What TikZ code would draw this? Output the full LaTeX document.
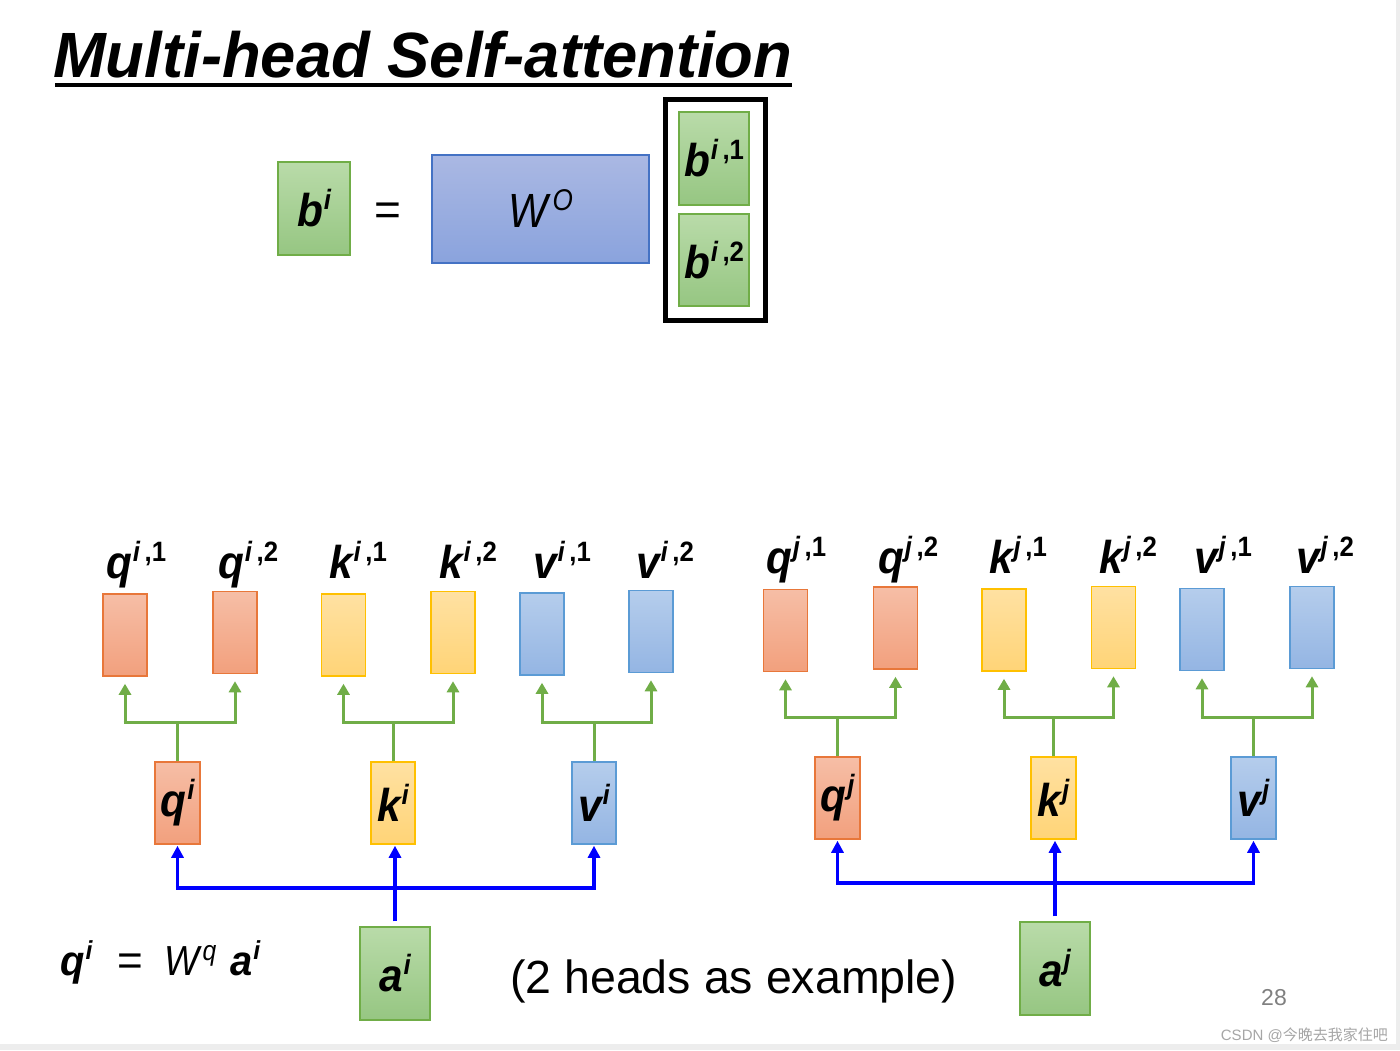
\documentclass[tikz,border=0pt]{standalone}
\usepackage{fontspec}
\setmainfont{Liberation Sans}
\newfontfamily\cjkfont{Noto Sans CJK SC}
\usetikzlibrary{arrows.meta}
\definecolor{orTop}{HTML}{F6BEA6}
\definecolor{orBot}{HTML}{F2A07D}
\definecolor{orDraw}{HTML}{E8773A}
\definecolor{yeTop}{HTML}{FFE1A2}
\definecolor{yeBot}{HTML}{FFD477}
\definecolor{yeDraw}{HTML}{FFC000}
\definecolor{blTop}{HTML}{B5CDEC}
\definecolor{blBot}{HTML}{94B5E3}
\definecolor{blDraw}{HTML}{5B9BD5}
\definecolor{grTop}{HTML}{B9DBA9}
\definecolor{grBot}{HTML}{96C682}
\definecolor{grDraw}{HTML}{70AD47}
\definecolor{woTop}{HTML}{AAB8E3}
\definecolor{woBot}{HTML}{8AA3DD}
\definecolor{woDraw}{HTML}{4472C4}
\definecolor{gline}{HTML}{70AD47}
\definecolor{bline}{HTML}{0000FF}
\newcommand\lab[2]{\scalebox{0.92}[1]{\fontsize{46}{46}\selectfont\bfseries\itshape #1\hspace{1pt}\raisebox{17pt}{\fontsize{28}{28}\selectfont #2}}}
\newcommand\hd[2]{#1\hspace{5pt}{\upshape ,#2}}
\tikzset{
  box/.style={draw, line width=1.5pt, inner sep=0pt, minimum width=44pt, minimum height=82pt},
  orbox/.style={box, draw=orDraw, top color=orTop, bottom color=orBot},
  yebox/.style={box, draw=yeDraw, top color=yeTop, bottom color=yeBot},
  blbox/.style={box, draw=blDraw, top color=blTop, bottom color=blBot},
  grbox/.style={box, draw=grDraw, top color=grTop, bottom color=grBot, minimum width=70pt, minimum height=93pt},
  toplab/.style={anchor=base west, inner sep=0pt},
  gl/.style={draw=gline, line width=3pt},
  garr/.style={gl, -{Triangle[width=12pt,length=11pt]}, shorten >=7pt},
  bl/.style={draw=bline, line width=3.5pt},
  barr/.style={bl, -{Triangle[width=12pt,length=12pt]}, shorten >=1pt},
}
\begin{document}
\begin{tikzpicture}[x=1pt,y=-1pt]
\useasboundingbox (0,0) rectangle (1400,1050);
\fill[black!7] (0,0) rectangle (1400,1050);
\fill[white] (0,0) rectangle (1396,1044);

% title
\node[anchor=base west, inner sep=0pt] (title) at (53,77)
  {\scalebox{0.99}[1]{\fontsize{64}{64}\selectfont\bfseries\itshape Multi-head Self-attention}};
\draw[line width=4pt] (55,85) -- (792,85);

% top equation
\node[grbox, minimum width=72pt, minimum height=93pt] (bi) at (314,208.5) {\lab{b}{i}};
\node[inner sep=0pt] (eq) at (388,214) {\fontsize{46}{46}\selectfont =};
\node[draw=woDraw, line width=1.5pt, top color=woTop, bottom color=woBot, inner sep=0pt,
      minimum width=217pt, minimum height=108pt] (WO) at (540.5,209)
  {\scalebox{0.87}[1]{\fontsize{48}{48}\selectfont\itshape W\hspace{6pt}\raisebox{17pt}{\fontsize{30}{30}\selectfont O}}};
\node[draw, line width=5pt, inner sep=0pt, minimum width=100pt, minimum height=221pt] (frame) at (715,209.5) {};
\node[grbox] (b1) at (714,158.5) {\lab{b}{\hd{i}{1}}};
\node[grbox, minimum height=92pt] (b2) at (714,260) {\lab{b}{\hd{i}{2}}};

% ---------- left group (i) ----------
\node[orbox] (qi1) at (125,635) {};
\node[orbox] (qi2) at (235,632.5) {};
\node[yebox] (ki1) at (343.5,635) {};
\node[yebox] (ki2) at (453,632.5) {};
\node[blbox] (vi1) at (542,634) {};
\node[blbox] (vi2) at (651,631.5) {};
\node[toplab] (lqi1) at (106,578) {\lab{q}{\hd{i}{1}}};
\node[toplab] (lqi2) at (218,578) {\lab{q}{\hd{i}{2}}};
\node[toplab] (lki1) at (329,578) {\lab{k}{\hd{i}{1}}};
\node[toplab] (lki2) at (439,578) {\lab{k}{\hd{i}{2}}};
\node[toplab] (lvi1) at (533,578) {\lab{v}{\hd{i}{1}}};
\node[toplab] (lvi2) at (636,578) {\lab{v}{\hd{i}{2}}};

\node[orbox, minimum width=45pt] (qi) at (177.5,803) {\lab{q}{i}};
\node[yebox] (ki) at (393,803) {\lab{k}{i}};
\node[blbox] (vi) at (594,803) {\lab{v}{i}};
\node[grbox] (ai) at (395,973.5) {\lab{a}{i}};

\coordinate (gi) at (0,722);
\coordinate (bi0) at (0,888);
\foreach \s/\a/\b in {qi/qi1/qi2, ki/ki1/ki2, vi/vi1/vi2}{
  \draw[gl] (\s.north) -- (\s.north |- gi);
  \draw[gl] ([xshift=-1.5pt]\a.south |- gi) -- ([xshift=1.5pt]\b.south |- gi);
  \draw[garr] (\a.south |- gi) -- (\a.south);
  \draw[garr] (\b.south |- gi) -- (\b.south);
}
\draw[bl] ([xshift=-1.75pt]qi.south |- bi0) -- ([xshift=1.75pt]vi.south |- bi0);
\draw[barr] (qi.south |- bi0) -- (qi.south);
\draw[barr] (vi.south |- bi0) -- (vi.south);
\draw[barr, shorten <=5pt] (ai.north) -- (ai.north |- ki.south);

% ---------- right group (j) ----------
\node[orbox] (qj1) at (785.5,630.5) {};
\node[orbox] (qj2) at (895.5,628) {};
\node[yebox] (kj1) at (1004,630) {};
\node[yebox] (kj2) at (1113.5,627.5) {};
\node[blbox] (vj1) at (1202,629.5) {};
\node[blbox] (vj2) at (1312,627.5) {};
\node[toplab] (lqj1) at (766,573) {\lab{q}{\hd{j}{1}}};
\node[toplab] (lqj2) at (878,573) {\lab{q}{\hd{j}{2}}};
\node[toplab] (lkj1) at (989,573) {\lab{k}{\hd{j}{1}}};
\node[toplab] (lkj2) at (1099,573) {\lab{k}{\hd{j}{2}}};
\node[toplab] (lvj1) at (1194,573) {\lab{v}{\hd{j}{1}}};
\node[toplab] (lvj2) at (1296,573) {\lab{v}{\hd{j}{2}}};

\node[orbox, minimum width=45pt] (qj) at (837.5,798) {\lab{q}{j}};
\node[yebox, minimum width=45pt] (kj) at (1053.5,798) {\lab{k}{j}};
\node[blbox, minimum width=45pt] (vj) at (1253.5,798) {\lab{v}{j}};
\node[grbox] (aj) at (1055,968.5) {\lab{a}{j}};

\coordinate (gj) at (0,717);
\coordinate (bj0) at (0,883);
\foreach \s/\a/\b in {qj/qj1/qj2, kj/kj1/kj2, vj/vj1/vj2}{
  \draw[gl] (\s.north) -- (\s.north |- gj);
  \draw[gl] ([xshift=-1.5pt]\a.south |- gj) -- ([xshift=1.5pt]\b.south |- gj);
  \draw[garr] (\a.south |- gj) -- (\a.south);
  \draw[garr] (\b.south |- gj) -- (\b.south);
}
\draw[bl] ([xshift=-1.75pt]qj.south |- bj0) -- ([xshift=1.75pt]vj.south |- bj0);
\draw[barr] (qj.south |- bj0) -- (qj.south);
\draw[barr] (vj.south |- bj0) -- (vj.south);
\draw[barr, shorten <=5pt] (aj.north) -- (aj.north |- kj.south);

% ---------- formula and notes ----------
\node[anchor=base west, inner sep=0pt] (fq) at (60,975) {\scalebox{0.95}[1]{\fontsize{42}{42}\selectfont\bfseries\itshape q\hspace{1pt}\raisebox{16pt}{\fontsize{26}{26}\selectfont i}}};
\node[anchor=base west, inner sep=0pt] (feq) at (117,975) {\fontsize{44}{44}\selectfont =};
\node[anchor=base west, inner sep=0pt] (fW) at (164,975) {\scalebox{0.88}[1]{\fontsize{42}{42}\selectfont\itshape W\hspace{4pt}\raisebox{15pt}{\fontsize{28}{28}\selectfont q}}};
\node[anchor=base west, inner sep=0pt] (fa) at (230,975) {\scalebox{0.95}[1]{\fontsize{42}{42}\selectfont\bfseries\itshape a\hspace{1pt}\raisebox{16pt}{\fontsize{26}{26}\selectfont i}}};

\node[anchor=base west, inner sep=0pt] (note) at (510,993) {\fontsize{46.5}{46.5}\selectfont (2 heads as example)};
\node[anchor=base west, inner sep=0pt, text=black!50] (page) at (1261,1005) {\fontsize{23}{23}\selectfont 28};
\node[anchor=base east, inner sep=0pt, text=black!35] (wm) at (1388,1040) {\fontsize{15}{15}\selectfont CSDN @\cjkfont 今晚去我家住吧};
\end{tikzpicture}
\end{document}
